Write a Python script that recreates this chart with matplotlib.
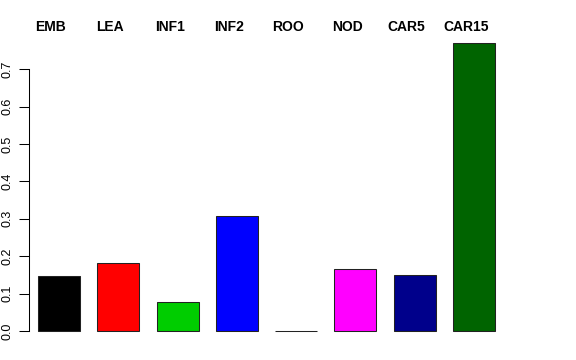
import numpy as np
import matplotlib
matplotlib.use("Agg")
import matplotlib.pyplot as plt
import matplotlib.transforms as mtransforms

plt.rcParams['font.family'] = ['Liberation Sans', 'DejaVu Sans']

tissues = ["EMB", "LEA", "INF1", "INF2", "ROO", "NOD", "CAR5", "CAR15"]
values = [0.147, 0.182, 0.078, 0.307, 0.001, 0.166, 0.150, 0.770]
colors = ["black", "red", "#00CD00", "blue", "cyan", "magenta", "#00008B", "#006400"]

W, H = 576, 360
fig = plt.figure(figsize=(W / 100, H / 100), dpi=100)
# axes placed in pixel terms (left, bottom, width, height)
ax = fig.add_axes([29 / W, (H - 342.5) / H, (504 - 29) / W, 311 / H])

x = np.arange(1, len(tissues) + 1)
ax.bar(x, values, width=0.71, color=colors, edgecolor="#222222", linewidth=0.75)

ax.set_xlim(0.494, 8.506)
ax.set_ylim(-0.0308, 0.8008)

for s in ["top", "right", "bottom"]:
    ax.spines[s].set_visible(False)
ax.spines["left"].set_bounds(0, 0.7)
ax.spines["left"].set_linewidth(0.75)
ax.set_xticks([])
ax.set_yticks(np.arange(0, 0.71, 0.1))
ax.set_yticklabels(["%.1f" % v for v in np.arange(0, 0.71, 0.1)], rotation=90, va="center", fontsize=9)
ax.tick_params(axis="y", length=7, width=0.75, pad=4)

# labels sit a little left of the bar centres in the original
trans = mtransforms.blended_transform_factory(ax.transData, fig.transFigure)
for xi, name in zip(x, tissues):
    ax.text(xi - 0.135, 1 - 27 / H, name, transform=trans,
            ha="center", va="center", fontsize=10, fontweight="bold")

fig.savefig("out.png", dpi=100)
